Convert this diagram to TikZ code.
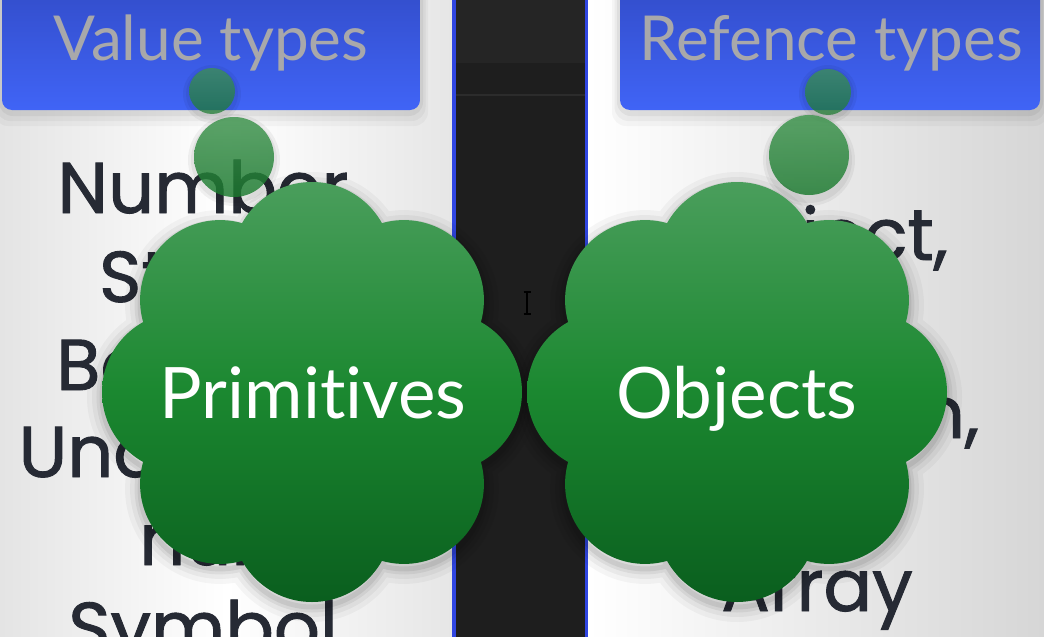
\documentclass[tikz,border=0pt]{standalone}
\usepackage{fontspec}
\setmainfont{Lato}[Ligatures={NoCommon}]
\newfontfamily\listfont{Poppins}[FakeBold=1.3, Ligatures={NoCommon}]
\usetikzlibrary{calc}

\definecolor{boxtop}{RGB}{50,76,200}
\definecolor{boxbot}{RGB}{64,100,246}
\definecolor{headtext}{RGB}{168,168,170}
\definecolor{listtext}{RGB}{38,42,52}
\definecolor{cloudtop}{RGB}{74,158,92}
\definecolor{cloudmid}{RGB}{27,136,48}
\definecolor{cloudbot}{RGB}{10,94,30}
\definecolor{bubtop}{RGB}{62,150,78}
\definecolor{bubbot}{RGB}{26,122,46}
\definecolor{strip}{RGB}{30,30,30}
\definecolor{striptop}{RGB}{37,37,37}
\definecolor{stripline}{RGB}{44,44,44}
\definecolor{stripedge}{RGB}{48,70,225}
\definecolor{paneledge}{RGB}{228,228,228}
\definecolor{paneledgeb}{RGB}{230,230,230}
\definecolor{panelright}{RGB}{214,214,214}

\tikzset{
  cloudshape/.style={insert path={(#1) circle[radius=112]
      \foreach \a in {0,45,...,315} {($(#1)+(\a:130)$) circle[radius=80]}}},
  listlabel/.style={font=\listfont\fontsize{72}{72}\selectfont, text=listtext,
      anchor=base, inner sep=0},
  headlabel/.style={font=\fontsize{62}{62}\selectfont, text=headtext,
      anchor=base, inner sep=0},
  cloudlabel/.style={font=\fontsize{71}{71}\selectfont, text=white,
      anchor=base, inner sep=0},
  bubble/.style={circle, inner sep=0, top color=bubtop, bottom color=bubbot,
      opacity=#1},
  headbox/.style={rounded corners=10, top color=boxtop, bottom color=boxbot},
}

\begin{document}
\begin{tikzpicture}[x=1pt,y=-1pt]
\useasboundingbox (0,0) rectangle (1044,637);

% panels
\shade[left color=paneledge, right color=paneledgeb, middle color=white] (0,0) rectangle (453,637);
\shade[left color=white, right color=panelright] (588,0) rectangle (1044,637);

% dark middle strip
\fill[strip] (453,0) rectangle (588,637);
\fill[striptop] (456,0) rectangle (585,63);
\fill[stripline] (456,94) rectangle (585,96);
\fill[stripedge] (452,0) rectangle (455.5,637);
\fill[stripedge] (584.5,0) rectangle (588,637);

% lists
\node[listlabel] (number) at (203,213) {Number};
\node[listlabel] (string) at (203,302) {String};
\node[listlabel] (boolean) at (203,390) {Boolean};
\node[listlabel] (undefined) at (203,477) {Undefined};
\node[listlabel] (null) at (203,565) {null};
\node[listlabel] (symbol) at (203,653) {Symbol};

\node[listlabel] (object) at (822,260) {Object,};
\node[listlabel] (function) at (818,438) {Function,};
\node[listlabel] (array) at (817,611) {Array};

% header boxes with soft shadows
\foreach \d/\o in {16/0.03, 11/0.04, 6/0.05} {
  \fill[black, opacity=\o, rounded corners=14] (2-\d/2,-20) rectangle (420+\d/2,110+\d);
  \fill[black, opacity=\o, rounded corners=14] (620-\d/2,-20) rectangle (1040+\d/2,110+\d);
}
\shade[headbox] (2,-20) rectangle (420,110);
\shade[headbox] (620,-20) rectangle (1040,110);
\node[headlabel] (valuetypes) at (211,60) {Value types};
\node[headlabel] (reftypes) at (831,60) {Refence types};

% thought bubbles
\foreach \x/\y/\r in {212/94/23, 234/160/40, 828/94/23, 809/160/40} {
  \fill[black, opacity=0.05] (\x,\y) circle[radius=\r+6];
  \fill[black, opacity=0.05] (\x,\y) circle[radius=\r+3];
}
\node[bubble=0.72, minimum size=46] (pb1) at (212,91) {};
\node[bubble=0.82, minimum size=80] (pb2) at (234,157) {};
\node[bubble=0.72, minimum size=46] (ob1) at (828,92) {};
\node[bubble=0.82, minimum size=80] (ob2) at (809,155) {};

% clouds
\coordinate (pc) at (312,392);
\coordinate (oc) at (737,392);
\coordinate (pcs) at (312,397);
\coordinate (ocs) at (737,397);
\foreach \w/\o in {30/0.035, 20/0.045, 11/0.06, 5/0.07} {
  \draw[line width=\w, black, opacity=\o, cloudshape=pcs];
  \draw[line width=\w, black, opacity=\o, cloudshape=ocs];
}
\shade[top color=cloudtop, bottom color=cloudbot, middle color=cloudmid, cloudshape=pc];
\shade[top color=cloudtop, bottom color=cloudbot, middle color=cloudmid, cloudshape=oc];

\node[cloudlabel] (primitives) at (313,418) {Primitives};
\node[cloudlabel] (objects) at (737,418) {Objects};

% text cursor
\coordinate (cur) at (527,303);
\draw[black, line width=1.3] ($(cur)+(0,-11)$) -- ($(cur)+(0,11)$);
\draw[black, line width=1.1] ($(cur)+(-3.5,-11)$) -- ($(cur)+(3.5,-11)$);
\draw[black, line width=1.1] ($(cur)+(-3.5,11)$) -- ($(cur)+(3.5,11)$);
\end{tikzpicture}
\end{document}
